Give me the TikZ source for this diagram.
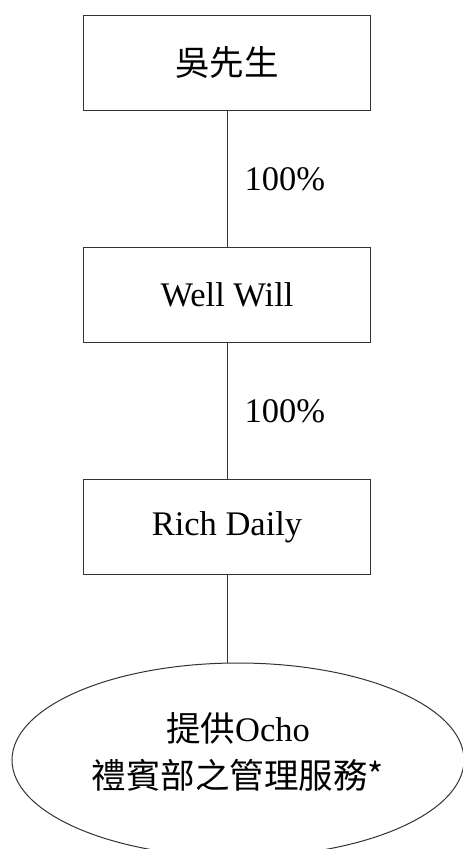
\documentclass[tikz,border=0pt]{standalone}
\usepackage{fontspec}
\setmainfont{Liberation Serif}
\newfontfamily\cjk{Noto Sans CJK TC}
\usetikzlibrary{shapes.geometric}

\begin{document}
\begin{tikzpicture}[x=1pt,y=-1pt,line width=1pt,
   every node/.style={font=\fontsize{34.5}{47}\selectfont},
   entity/.style={draw=black!80,minimum width=288pt-\pgflinewidth,minimum height=96pt-\pgflinewidth,inner sep=0pt},
   pct/.style={anchor=west,inner sep=0pt,xshift=17pt},
   link/.style={draw=black!80}]
   \useasboundingbox (0,0) rectangle (463,849);
   % owners
   \node[entity] (wu) at (227,63) {\cjk 吳先生};
   \node[entity] (well) at (227,295) {Well Will};
   \node[entity] (rich) at (227,527) {Rich Daily};
   \draw[link] (wu) -- node[pct] {100\%} (well);
   \draw[link] (well) -- node[pct] {100\%} (rich);
   % service
   \node[draw=black!80,ellipse,minimum width=452pt,minimum height=194pt,inner sep=0pt] (svc) at (238,760) {};
   \node[align=center,inner sep=0pt] (svctext) at (238,752) {{\cjk 提供}Ocho\\{\cjk 禮賓部之管理服務*}};
   \draw[link] (rich) -- (rich.south |- svc.north);
\end{tikzpicture}
\end{document}
